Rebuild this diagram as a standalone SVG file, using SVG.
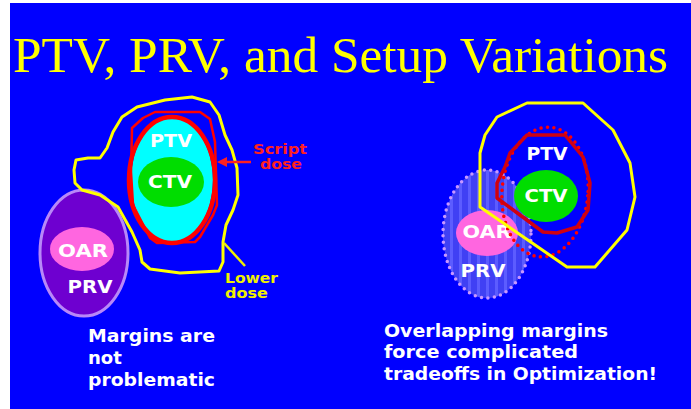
<svg xmlns="http://www.w3.org/2000/svg" width="691" height="409" viewBox="0 0 691 409">
<style>
.lbl{font-family:"DejaVu Sans","Liberation Sans",sans-serif;font-weight:bold;fill:#ffffff}
.cap{font-family:"DejaVu Sans","Liberation Sans",sans-serif;font-weight:bold;font-size:14px}
.body{font-family:"DejaVu Sans","Liberation Sans",sans-serif;font-weight:bold;font-size:18px;fill:#ffffff}
.yel{fill:none;stroke:#ffff00;stroke-width:3;stroke-linejoin:round}
</style>
<defs>
<pattern id="stripes" width="9" height="10" patternUnits="userSpaceOnUse">
<rect width="9" height="10" fill="#4040f4"/>
<rect x="0" width="3" height="10" fill="#5c5cff"/>
</pattern>
<marker id="arrowL" viewBox="0 0 10 10" refX="1" refY="5" markerWidth="4" markerHeight="4" orient="auto-start-reverse">
<path d="M0,0 L10,5 L0,10 z" fill="#ff2020"/>
</marker>
</defs>
<rect width="691" height="409" fill="#ffffff"/>
<rect x="10" y="3" width="681" height="406" fill="#0000ff"/>
<text x="13" y="72" font-family="Liberation Serif, Times New Roman, serif" font-size="50" fill="#ffff00" textLength="655" lengthAdjust="spacingAndGlyphs">PTV, PRV, and Setup Variations</text>

<g id="left-prv">
<ellipse cx="84" cy="253" rx="44" ry="63" fill="#6e00d0" stroke="#b888f8" stroke-width="3"/>
</g>
<g id="left-oar">
<ellipse cx="82" cy="249" rx="32" ry="22" fill="#ff66e0"/>
<text class="lbl" x="83" y="257" font-size="17" text-anchor="middle" textLength="50" lengthAdjust="spacingAndGlyphs">OAR</text>
</g>
<text class="lbl" x="90" y="293" font-size="17" text-anchor="middle" textLength="45" lengthAdjust="spacingAndGlyphs">PRV</text>

<g id="left-lower-dose">
<polygon class="yel" points="76,160 88,158 100,158 107,148 113,132 122,117 137,107 165,100 192,97 210,102 219,115 225,135 232,150 237,168 238,195 233,210 226,225 223,242 223,262 219,271 180,273 150,269 142,262 140,250 132,232 118,207 100,195 82,190 75,183 74,170"/>
</g>
<g id="left-ptv">
<ellipse cx="172" cy="180" rx="41" ry="62" fill="#00ffff"/>
<polygon points="132,128 143,118 155,112 200,112 210,119 215,142 217,205 213,215 200,237 195,242 157,243 150,238 133,205 131,172" fill="none" stroke="#ff0000" stroke-width="2.5" stroke-linejoin="round"/>
<ellipse cx="172" cy="180" rx="43" ry="63" fill="none" stroke="#ff0000" stroke-width="4.5"/>
<text class="lbl" x="171" y="147" font-size="17" text-anchor="middle" textLength="42" lengthAdjust="spacingAndGlyphs">PTV</text>
</g>
<g id="left-ctv">
<ellipse cx="171" cy="182" rx="33" ry="25" fill="#00dd00"/>
<text class="lbl" x="170" y="188" font-size="18" text-anchor="middle" textLength="44" lengthAdjust="spacingAndGlyphs">CTV</text>
</g>
<g id="label-script-dose">
<text class="cap" x="280" y="154" fill="#ff2020" text-anchor="middle" textLength="54" lengthAdjust="spacingAndGlyphs">Script</text>
<text class="cap" x="281" y="169" fill="#ff2020" text-anchor="middle" textLength="42" lengthAdjust="spacingAndGlyphs">dose</text>
</g>
<g id="label-lower-dose">
<text class="cap" x="225" y="283" fill="#f0f000" textLength="53" lengthAdjust="spacingAndGlyphs">Lower</text>
<text class="cap" x="225" y="298" fill="#f0f000" textLength="43" lengthAdjust="spacingAndGlyphs">dose</text>
</g>

<g id="connectors">
<line x1="251" y1="162" x2="226" y2="162" stroke="#ff2020" stroke-width="2.5" marker-end="url(#arrowL)"/>
<line x1="224" y1="243" x2="245" y2="266" stroke="#f0f000" stroke-width="2.5"/>
</g>

<g id="right-prv">
<ellipse cx="487" cy="234" rx="44" ry="64" fill="url(#stripes)" stroke="#c898ff" stroke-width="3.5" stroke-dasharray="0 6.5" stroke-linecap="round"/>
</g>
<g id="right-oar">
<ellipse cx="487" cy="233" rx="31" ry="23" fill="#ff66e0"/>
<text class="lbl" x="487" y="238" font-size="17" text-anchor="middle" textLength="49" lengthAdjust="spacingAndGlyphs">OAR</text>
</g>
<text class="lbl" x="483" y="277" font-size="17" text-anchor="middle" textLength="45" lengthAdjust="spacingAndGlyphs">PRV</text>
<g id="right-ptv">
<ellipse cx="545" cy="192" rx="43" ry="65" transform="rotate(5 545 192)" fill="none" stroke="#ff0000" stroke-width="3.5" stroke-dasharray="0 6.5" stroke-linecap="round"/>
<polygon points="527,135 565,135 583,157 590,183 588,210 577,227 557,233 543,232 520,215 497,198 497,183 505,167 510,153" fill="none" stroke="#d00010" stroke-width="3.5" stroke-linejoin="round"/>
<text class="lbl" x="547" y="160" font-size="17" text-anchor="middle" textLength="41" lengthAdjust="spacingAndGlyphs">PTV</text>
</g>
<g id="right-ctv">
<ellipse cx="546" cy="196" rx="32" ry="26" fill="#00dd00"/>
<text class="lbl" x="546" y="202" font-size="18" text-anchor="middle" textLength="43" lengthAdjust="spacingAndGlyphs">CTV</text>
</g>
<g id="right-lower-dose">
<polygon class="yel" points="480,207 480,153 485,135 497,117 527,103 583,103 613,130 630,163 635,197 627,230 595,267 567,267"/>
</g>

<g id="caption-left">
<text class="body" x="88" y="342" textLength="127" lengthAdjust="spacingAndGlyphs">Margins are</text>
<text class="body" x="88" y="364">not</text>
<text class="body" x="88" y="386" textLength="127" lengthAdjust="spacingAndGlyphs">problematic</text>
</g>
<g id="caption-right">
<text class="body" x="384" y="337" textLength="224" lengthAdjust="spacingAndGlyphs">Overlapping margins</text>
<text class="body" x="384" y="358" textLength="194" lengthAdjust="spacingAndGlyphs">force complicated</text>
<text class="body" x="384" y="380" textLength="273" lengthAdjust="spacingAndGlyphs">tradeoffs in Optimization!</text>
</g>
</svg>
